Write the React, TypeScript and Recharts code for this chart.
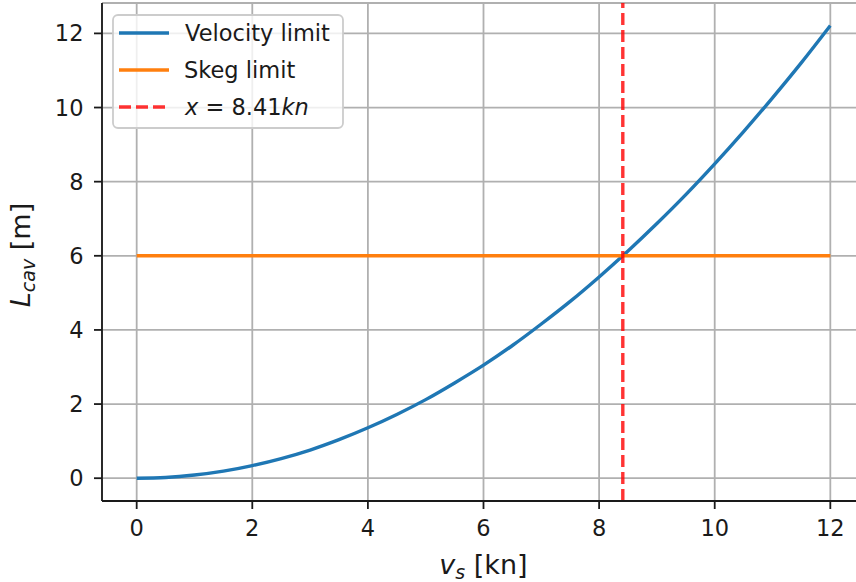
import React from "react";
import {
  LineChart,
  Line,
  XAxis,
  YAxis,
  CartesianGrid,
  ReferenceLine,
  Legend,
} from "recharts";

// Ship speed v_s [kn]
const speeds = [0, 0.5, 1, 1.5, 2, 2.5, 3, 3.5, 4, 4.5, 5, 5.5, 6, 6.5, 7, 7.5, 8, 8.5, 9, 9.5, 10, 10.5, 11, 11.5, 12];
// Velocity-limited cavity length L_cav [m]
const velocityLimit = [0, 0.02, 0.085, 0.19, 0.34, 0.53, 0.76, 1.04, 1.36, 1.72, 2.12, 2.57, 3.05, 3.58, 4.16, 4.77, 5.43, 6.13, 6.87, 7.65, 8.48, 9.35, 10.26, 11.21, 12.21];
// Skeg limit
const skegSpeeds = [0, 12];
const skegLimit = [6, 6];
// Intersection speed
const crossingSpeed = 8.41;

const xTicks = [0, 2, 4, 6, 8, 10, 12];
const yTicks = [0, 2, 4, 6, 8, 10, 12];

const velocityData = speeds.map((v, i) => ({ v, L: velocityLimit[i] }));
const skegData = skegSpeeds.map((v, i) => ({ v, L: skegLimit[i] }));

const FONT = "DejaVu Sans";
const BLUE = "#1f77b4";
const ORANGE = "#ff7f0e";
const RED = "#ff0000";
const SPINE = "#1a1a1a";

const LegendBox = () => {
  const rows = [19, 56, 93];
  return (
    <svg width={232} height={115} style={{ display: "block" }}>
      <rect x={1} y={1} width={230} height={113} rx={5} fill="#ffffff" fillOpacity={0.8} stroke="#cccccc" strokeWidth={1.8} />
      <line x1={7} x2={57} y1={rows[0]} y2={rows[0]} stroke={BLUE} strokeWidth={3.4} />
      <line x1={7} x2={57} y1={rows[1]} y2={rows[1]} stroke={ORANGE} strokeWidth={3.4} />
      <line x1={7} x2={57} y1={rows[2]} y2={rows[2]} stroke={RED} strokeOpacity={0.8} strokeWidth={3.4} strokeDasharray="12 5" />
      <g fontFamily={FONT} fontSize={22.5} fill="#1a1a1a">
        <text x={73} y={rows[0] + 8.2}>Velocity limit</text>
        <text x={72} y={rows[1] + 8.2}>Skeg limit</text>
        <text x={73} y={rows[2] + 8.2}>
          <tspan fontStyle="italic">x</tspan>
          <tspan> = 8.41</tspan>
          <tspan fontStyle="italic">kn</tspan>
        </text>
      </g>
    </svg>
  );
};

const XLabel = (props: any) => {
  const vb = props.viewBox || {};
  const cx = (vb.x ?? 102) + (vb.width ?? 763) / 2;
  return (
    <text x={cx} y={574} textAnchor="middle" fontFamily={FONT} fontSize={27} fill="#1a1a1a">
      <tspan fontStyle="italic">v</tspan>
      <tspan fontStyle="italic" fontSize={19} dy={5}>s</tspan>
      <tspan dy={-5}> [kn]</tspan>
    </text>
  );
};

const YLabel = (props: any) => {
  const vb = props.viewBox || {};
  const cy = (vb.y ?? 3) + (vb.height ?? 498) / 2 + 3;
  const x = 30;
  return (
    <text
      x={x}
      y={cy}
      textAnchor="middle"
      transform={`rotate(-90, ${x}, ${cy})`}
      fontFamily={FONT}
      fontSize={27}
      fill="#1a1a1a"
    >
      <tspan fontStyle="italic">L</tspan>
      <tspan fontStyle="italic" fontSize={19} dy={5}>cav</tspan>
      <tspan dy={-5}> [m]</tspan>
    </text>
  );
};

export default function App() {
  return (
    <div
      style={{
        position: "absolute",
        left: 0,
        top: 0,
        width: 856,
        height: 582,
        overflow: "hidden",
        background: "#ffffff",
      }}
    >
      <LineChart
        width={880}
        height={582}
        data={velocityData}
        margin={{ top: 3, right: 15, bottom: 0, left: 0 }}
      >
        <CartesianGrid stroke="#b0b0b0" strokeWidth={1.8} />
        <XAxis
          dataKey="v"
          type="number"
          domain={[-0.6, 12.6]}
          ticks={xTicks}
          allowDataOverflow
          height={81}
          tickSize={8}
          tickMargin={11.5}
          axisLine={{ stroke: SPINE, strokeWidth: 1.8 }}
          tickLine={{ stroke: SPINE, strokeWidth: 1.8 }}
          tick={{ fontFamily: FONT, fontSize: 22.5, fill: "#1a1a1a" }}
          label={{ content: XLabel }}
        />
        <XAxis
          xAxisId="top"
          orientation="top"
          dataKey="v"
          type="number"
          domain={[-0.6, 12.6]}
          height={0}
          tick={false}
          tickLine={false}
          axisLine={{ stroke: SPINE, strokeWidth: 1.8 }}
        />
        <YAxis
          type="number"
          domain={[-0.615, 12.82]}
          ticks={yTicks}
          allowDataOverflow
          width={102}
          tickSize={8}
          tickMargin={10.5}
          axisLine={{ stroke: SPINE, strokeWidth: 1.8 }}
          tickLine={{ stroke: SPINE, strokeWidth: 1.8 }}
          tick={{ fontFamily: FONT, fontSize: 22.5, fill: "#1a1a1a" }}
          label={{ content: YLabel }}
        />
        <Line
          data={velocityData}
          dataKey="L"
          type="monotone"
          stroke={BLUE}
          strokeWidth={3.4}
          dot={false}
          activeDot={false}
          isAnimationActive={false}
        />
        <Line
          data={skegData}
          dataKey="L"
          type="linear"
          stroke={ORANGE}
          strokeWidth={3.4}
          dot={false}
          activeDot={false}
          isAnimationActive={false}
        />
        <ReferenceLine
          x={crossingSpeed}
          stroke={RED}
          strokeOpacity={0.8}
          strokeWidth={3.4}
          strokeDasharray="12 5"
        />
        <Legend
          layout="vertical"
          align="center"
          verticalAlign="middle"
          content={() => <LegendBox />}
          wrapperStyle={{ position: "absolute", left: 112, top: 14, width: 232, height: 115 }}
        />
      </LineChart>
    </div>
  );
}
